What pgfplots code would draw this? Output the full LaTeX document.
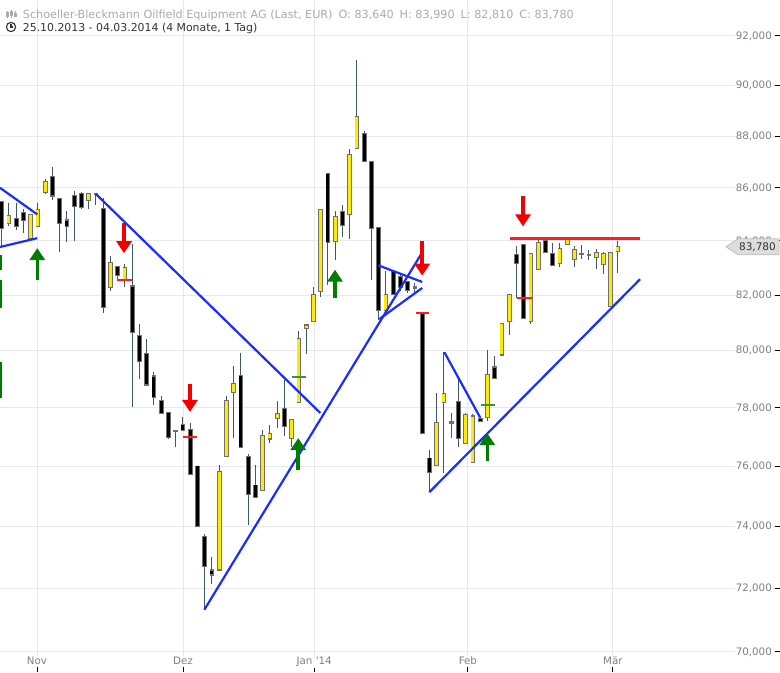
\documentclass[border=0pt]{standalone}
\usepackage{fontspec}
\setmainfont{DejaVu Sans}
\usepackage{pgfplots}
\usepackage{pgfplotstable}
\pgfplotsset{compat=1.18}
\usetikzlibrary{arrows.meta}

\definecolor{upc}{RGB}{255,235,0}
\definecolor{wick}{RGB}{60,90,100}
\definecolor{edge}{RGB}{112,112,112}
\definecolor{trend}{RGB}{25,45,255}
\definecolor{resist}{RGB}{255,30,30}
\definecolor{arrowgreen}{RGB}{0,125,0}
\definecolor{arrowred}{RGB}{240,0,0}
\definecolor{gridc}{RGB}{232,232,232}
\definecolor{labelc}{RGB}{128,128,128}
\definecolor{darktext}{RGB}{51,51,51}
\definecolor{lighttext}{RGB}{170,170,170}
\definecolor{boxfill}{RGB}{221,221,221}
\definecolor{boxdraw}{RGB}{190,190,190}

% x = trading day index (25.10.2013 = 0), o h l c in EUR
\pgfplotstableread{
x o h l c
0 85.47 85.50 83.77 84.48
1 84.67 85.43 84.57 84.92
2 84.82 85.43 84.42 84.57
3 85.05 85.20 84.29 84.78
4 84.10 84.98 84.08 84.96
5 84.57 85.43 84.55 85.15
6 85.85 86.32 85.76 86.22
7 86.42 86.81 85.53 85.71
8 85.58 85.58 83.57 84.68
9 84.76 85.11 83.94 84.56
10 85.68 85.87 83.98 85.32
11 85.77 85.84 85.18 85.28
12 85.53 85.81 85.18 85.75
13 85.77 85.82 85.33 85.77
14 85.18 85.62 81.37 81.58
15 82.31 83.44 82.15 83.17
16 83.02 83.07 82.58 82.73
17 82.56 83.15 82.31 82.99
18 82.31 83.88 78.05 80.67
19 80.51 80.95 79.03 79.64
20 79.88 80.43 78.80 78.83
21 79.10 79.26 78.11 78.40
22 78.23 78.42 77.82 77.83
23 77.83 77.85 76.94 77.00
24 77.20 77.26 76.66 77.20
25 77.41 77.71 77.19 77.24
26 77.24 77.49 75.74 75.74
27 76.00 76.00 74.02 74.02
28 73.65 73.75 71.32 72.72
29 72.57 73.02 72.14 72.45
30 72.61 76.05 72.61 75.81
31 76.36 78.43 76.36 78.23
32 78.56 79.47 76.96 78.84
33 79.12 79.94 76.67 76.67
34 76.31 76.43 74.04 75.09
35 75.36 76.04 74.99 74.99
36 75.20 77.25 75.20 77.04
37 76.95 77.42 76.79 77.11
38 77.65 78.26 77.31 77.80
39 77.97 78.99 77.02 77.39
40 76.96 77.58 76.67 77.58
41 78.21 80.71 78.21 80.42
42 80.81 80.90 79.88 80.90
43 81.08 82.31 81.01 82.00
44 82.15 85.14 81.94 85.14
45 86.54 86.54 82.37 83.95
46 84.00 85.11 83.28 84.89
47 85.08 85.33 84.13 84.61
48 85.01 87.49 84.06 87.27
49 87.53 91.00 87.53 88.73
50 88.09 88.20 87.04 87.04
51 86.99 86.99 82.55 84.48
52 84.47 84.47 81.10 81.46
53 81.45 82.90 81.45 82.01
54 82.85 82.85 82.03 82.03
55 82.65 82.74 82.15 82.30
56 82.47 82.53 82.08 82.18
57 82.28 82.43 82.12 82.28
58 81.35 81.35 77.13 77.13
59 76.27 76.55 75.14 75.81
60 76.06 78.52 76.06 77.48
61 78.21 79.96 75.79 78.49
62 77.50 77.83 76.99 77.50
63 78.21 79.04 76.67 76.96
64 76.79 77.83 76.79 77.75
65 76.17 77.80 76.17 77.71
66 77.63 77.70 77.54 77.56
67 77.68 80.02 77.56 79.14
68 79.41 79.82 79.06 79.06
69 79.88 80.94 79.88 80.94
70 81.06 82.00 80.56 82.00
71 83.46 83.79 81.90 83.17
72 83.83 83.83 81.18 81.18
73 81.06 83.51 80.97 83.51
74 82.96 84.16 82.96 83.91
75 84.00 84.16 83.58 83.58
76 83.51 83.91 83.09 83.09
77 83.17 83.91 83.02 83.69
78 83.89 84.16 83.85 84.07
79 83.33 83.79 83.02 83.67
80 83.51 83.83 83.32 83.51
81 83.48 83.67 83.28 83.48
82 83.40 83.70 82.95 83.54
83 83.14 83.60 82.77 83.51
84 81.61 83.60 81.61 83.54
85 83.64 83.99 82.81 83.78
}\candles

\begin{document}
\begin{tikzpicture}
\begin{axis}[
    scale only axis,
    width=780pt, height=672pt,
    xmin=-0.234, xmax=107.35,
    ymode=log, ymin=69.38, ymax=93.48,
    axis line style={draw=none},
    xtick={4.87,25.0,43.1,64.3,84.3},
    xticklabels={Nov,Dez,{Jan \textquotesingle14},Feb,Mär},
    ytick={70,72,74,76,78,80,82,84,86,88,90,92},
    yticklabels={{70,000},{72,000},{74,000},{76,000},{78,000},{80,000},{82,000},{84,000},{86,000},{88,000},{90,000},{92,000}},
    yminorticks=false,
    xtick pos=bottom, ytick pos=right, yticklabel pos=right,
    tick align=inside, major tick length=5pt,
    tick style={black, line width=0.8pt},
    grid=major,
    major grid style={gridc, line width=0.9pt},
    yticklabel style={anchor=east, xshift=-7pt, inner sep=1pt, fill=white,
        text=labelc, font=\fontsize{10.3}{12}\selectfont},
    xticklabel style={anchor=base, yshift=7pt, inner sep=1pt, fill=white,
        text=labelc, font=\fontsize{10.3}{12}\selectfont},
]
% wicks
\addplot[draw=none, mark=none, error bars/.cd, y dir=plus, y explicit, error mark=none,
    error bar style={draw=wick, line width=1pt}]
    table[x=x, y=l, y error plus expr={\thisrow{h}-\thisrow{l}}] {\candles};
% body outlines
\addplot[draw=none, mark=none, error bars/.cd, y dir=plus, y explicit, error mark=none,
    error bar style={draw=edge, line width=4.8pt, line cap=butt}]
    table[x=x, y expr={min(\thisrow{o},\thisrow{c})*0.9995},
      y error plus expr={max(\thisrow{o},\thisrow{c})*1.0005-min(\thisrow{o},\thisrow{c})*0.9995}] {\candles};
% rising bodies
\addplot[draw=none, mark=none, restrict expr to domain={\thisrow{c}-\thisrow{o}}{0.001:100},
    error bars/.cd, y dir=plus, y explicit, error mark=none,
    error bar style={draw=upc, line width=3.0pt, line cap=butt}]
    table[x=x, y=o, y error plus expr={\thisrow{c}-\thisrow{o}}] {\candles};
% falling bodies
\addplot[draw=none, mark=none, restrict expr to domain={\thisrow{o}-\thisrow{c}}{0.001:100},
    error bars/.cd, y dir=plus, y explicit, error mark=none,
    error bar style={draw=black, line width=3.0pt, line cap=butt}]
    table[x=x, y=c, y error plus expr={\thisrow{o}-\thisrow{c}}] {\candles};

% trend lines
\addplot[trend, line width=2.2pt] coordinates {(-0.234,86.0) (4.91,84.99)};
\addplot[trend, line width=2.2pt] coordinates {(-0.234,83.77) (4.91,84.10)};
\addplot[trend, line width=2.2pt] coordinates {(12.97,85.77) (43.95,77.83)};
\addplot[trend, line width=2.2pt] coordinates {(27.95,71.32) (57.93,83.54)};
\addplot[trend, line width=2.2pt] coordinates {(51.95,83.09) (58.0,82.48)};
\addplot[trend, line width=2.2pt] coordinates {(52.08,81.13) (58.0,82.26)};
\addplot[trend, line width=2.2pt] coordinates {(61.05,79.96) (65.98,77.68)};
\addplot[trend, line width=2.2pt] coordinates {(58.98,75.14) (88.04,82.58)};
\addplot[resist, line width=2.2pt] coordinates {(70.11,84.09) (88.04,84.09)};

% short markers
\addplot[resist, line width=2pt] coordinates {(15.95,82.56) (17.93,82.56)};
\addplot[resist, line width=2pt] coordinates {(24.97,77.0) (26.98,77.0)};
\addplot[resist, line width=2pt] coordinates {(57.1,81.35) (58.94,81.35)};
\addplot[resist, line width=2pt] coordinates {(71.03,81.88) (73.1,81.88)};
\addplot[arrowgreen!80!white, line width=2pt] coordinates {(40.0,79.08) (41.97,79.08)};
\addplot[arrowgreen!80!white, line width=2pt] coordinates {(66.07,78.12) (68.04,78.12)};
\addplot[arrowgreen, line width=2.5pt] coordinates {(-0.1,83.48) (-0.1,82.93)};
\addplot[arrowgreen, line width=2.5pt] coordinates {(-0.1,82.56) (-0.1,81.54)};
\addplot[arrowgreen, line width=2.5pt] coordinates {(-0.1,79.62) (-0.1,78.36)};

% signal arrows
\addplot[arrowgreen, line width=3.5pt, -{Triangle[length=12pt,width=15pt]}] coordinates {(4.91,82.56) (4.91,83.73)};
\addplot[arrowgreen, line width=3.5pt, -{Triangle[length=12pt,width=15pt]}] coordinates {(45.97,81.89) (45.97,82.93)};
\addplot[arrowgreen, line width=3.5pt, -{Triangle[length=12pt,width=15pt]}] coordinates {(40.9,75.90) (40.9,76.97)};
\addplot[arrowgreen, line width=3.5pt, -{Triangle[length=12pt,width=15pt]}] coordinates {(66.98,76.18) (66.98,77.14)};
\addplot[arrowred, line width=3.5pt, -{Triangle[length=12pt,width=15pt]}] coordinates {(16.87,84.66) (16.87,83.54)};
\addplot[arrowred, line width=3.5pt, -{Triangle[length=12pt,width=15pt]}] coordinates {(25.97,78.85) (25.97,77.86)};
\addplot[arrowred, line width=3.5pt, -{Triangle[length=12pt,width=15pt]}] coordinates {(58.0,84.01) (58.0,82.71)};
\addplot[arrowred, line width=3.5pt, -{Triangle[length=12pt,width=15pt]}] coordinates {(71.9,85.70) (71.9,84.54)};

\coordinate (pb) at (axis cs:107.35,83.78);
\end{axis}

% last price box
\draw[shift={(pb)}, fill=boxfill, draw=boxdraw, line width=0.8pt]
    (-1pt,8pt) -- (-42pt,8pt) -- (-54pt,0pt) -- (-42pt,-8pt) -- (-1pt,-8pt) -- cycle;
\node[anchor=east, inner sep=0pt, text=darktext,
    font=\fontsize{10.5}{12}\selectfont] at ([xshift=-4pt]pb) {83,780};

% header
\node[anchor=base west, inner sep=0pt, text=lighttext,
    font=\fontsize{11.2}{13}\selectfont]
    at ([xshift=22.7pt, yshift=-18.3pt]current axis.north west)
    {Schoeller-Bleckmann Oilfield Equipment AG (Last, EUR)\hspace{6pt}O: 83,640\hspace{6pt}H: 83,990\hspace{6pt}L: 82,810\hspace{6pt}C: 83,780};
\node[anchor=base west, inner sep=0pt, text=darktext,
    font=\fontsize{10.9}{13}\selectfont]
    at ([xshift=22.7pt, yshift=-31.7pt]current axis.north west)
    {25.10.2013 - 04.03.2014 (4 Monate, 1 Tag)};
% icons
\begin{scope}[shift={([xshift=11pt, yshift=-27pt]current axis.north west)}]
  \draw[line width=1.1pt, darktext] (0,0) circle (4.6pt);
  \draw[line width=1.1pt, darktext] (0,2.8pt) -- (0,0) -- (2.4pt,0);
\end{scope}
\begin{scope}[shift={([xshift=11pt, yshift=-14pt]current axis.north west)},
    lighttext, line width=0.8pt]
  \draw (-4pt,-4pt) -- (-4pt,3pt); \draw (-5pt,-2pt) rectangle (-3pt,1.5pt);
  \draw (0pt,-4.5pt) -- (0pt,4pt); \draw (-1pt,-1pt) rectangle (1pt,2.5pt);
  \draw (4pt,-3.5pt) -- (4pt,3pt); \draw (3pt,-2.5pt) rectangle (5pt,0.5pt);
\end{scope}

\pgfresetboundingbox
\path[use as bounding box] (current axis.south west) rectangle (current axis.north east);
\end{tikzpicture}
\end{document}
